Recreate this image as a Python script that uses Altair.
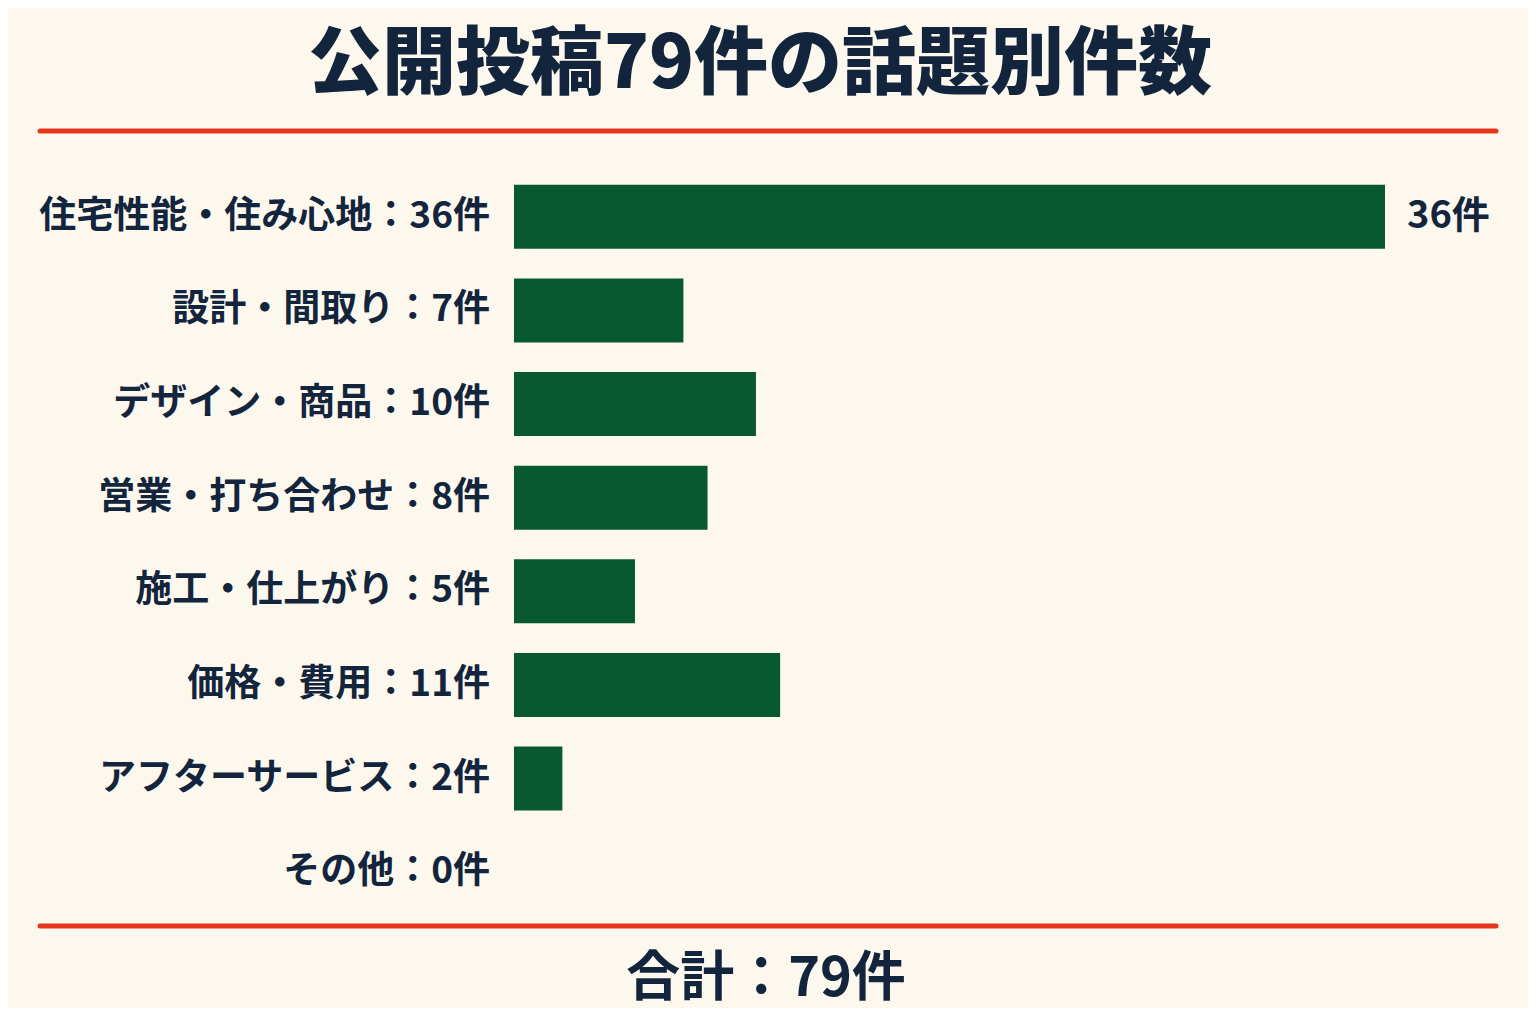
"""
公開投稿の話題別件数を横棒グラフで描く。
"""

import altair as alt
import pandas as pd

FONT = "Noto Sans CJK JP"
NAVY = "#13243d"
GREEN = "#08592d"
RED = "#e8361c"
BG = "#fcf8ee"

CANVAS_WIDTH = 1520
CANVAS_HEIGHT = 1000
BAR_LEFT = 506
BAR_RIGHT = 1377
ROWS_TOP = 162
ROWS_BOTTOM = 911

categories = [
    "住宅性能・住み心地",
    "設計・間取り",
    "デザイン・商品",
    "営業・打ち合わせ",
    "施工・仕上がり",
    "価格・費用",
    "アフターサービス",
    "その他",
]
counts = [36, 7, 10, 8, 5, 11, 2, 0]

total = sum(counts)
title_text = f"公開投稿{total}件の話題別件数"
total_text = f"合計：{total}件"

df = pd.DataFrame({"category": categories, "count": counts})
df["label"] = df["category"] + "：" + df["count"].astype(str) + "件"
df["value_label"] = df["count"].astype(str) + "件"

y_enc = alt.Y(
    "category:N",
    sort=categories,
    axis=None,
    scale=alt.Scale(
        range=[ROWS_TOP, ROWS_BOTTOM], paddingInner=0.316, paddingOuter=0.158
    ),
)
x_enc = alt.X(
    "count:Q",
    axis=None,
    scale=alt.Scale(
        domain=[0, max(counts)], range=[BAR_LEFT, BAR_RIGHT], nice=False
    ),
)

bars = alt.Chart(df).mark_bar(color=GREEN).encode(x=x_enc, y=y_enc)

labels = alt.Chart(df).mark_text(
    align="right", baseline="middle", font=FONT, fontSize=37,
    fontWeight="bold", color=NAVY
).encode(x=alt.value(BAR_LEFT - 24), y=y_enc, text="label:N")

top_value = alt.Chart(df[df["count"] == df["count"].max()]).mark_text(
    align="left", baseline="middle", dx=22, font=FONT, fontSize=38,
    fontWeight="bold", color=NAVY
).encode(x=x_enc, y=y_enc, text="value_label:N")

title = alt.Chart(pd.DataFrame({"t": [title_text]})).mark_text(
    align="center", baseline="middle", font=FONT, fontSize=74,
    fontWeight=900, color=NAVY
).encode(x=alt.value(752), y=alt.value(58), text="t:N")

total_label = alt.Chart(pd.DataFrame({"t": [total_text]})).mark_text(
    align="center", baseline="middle", font=FONT, fontSize=54,
    fontWeight="bold", color=NAVY
).encode(x=alt.value(758), y=alt.value(972), text="t:N")

top_rule = alt.Chart(pd.DataFrame({"r": [0]})).mark_rule(
    color=RED, strokeWidth=5, strokeCap="round"
).encode(x=alt.value(32), x2=alt.value(1488), y=alt.value(123))

bottom_rule = alt.Chart(pd.DataFrame({"r": [0]})).mark_rule(
    color=RED, strokeWidth=5, strokeCap="round"
).encode(x=alt.value(32), x2=alt.value(1488), y=alt.value(918))

chart = alt.layer(
    bars, labels, top_value, title, total_label, top_rule, bottom_rule
).properties(
    width=CANVAS_WIDTH,
    height=CANVAS_HEIGHT,
    autosize=alt.AutoSizeParams(type="none"),
    padding=0,
    background=BG,
).configure_view(stroke=None)

chart.save("out.html", embed_options={"renderer": "svg", "actions": False})
